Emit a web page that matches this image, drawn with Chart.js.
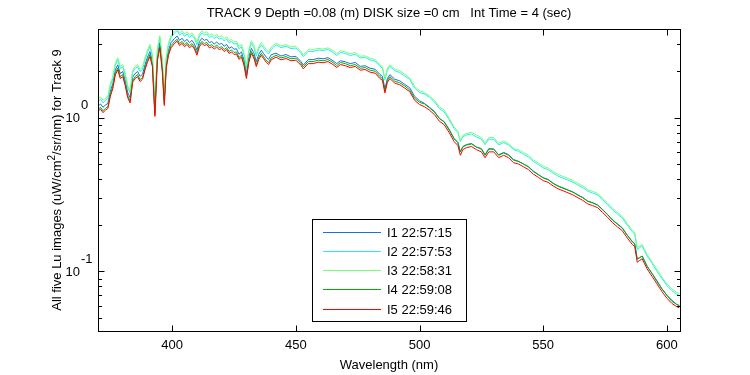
<!DOCTYPE html>
<html>
<head>
<meta charset="utf-8">
<script src="https://cdn.jsdelivr.net/npm/chart.js@4.4.1/dist/chart.umd.min.js"></script>
<style>
  body { margin: 0; background: #fff; }
  canvas { display: block; }
</style>
</head>
<body>
<canvas id="spectra" width="750" height="375"></canvas>
<script>
// golflengte (nm)
const wavelength = [
  370,371,372,373,374,375,376,377,378,379,380,381,382,383,384,385,386,387,388,389,390,391,392,393,394,395,396,396.8,397.6,398.5,399.5,
  401,402,403,404,405,406,407,408,409,410,411,412,413,414,415,416,417,418,419,420,421,422,423,424,425,426,427,428,429,430,431,432,433,434,435,436,437,438,439,440,
  442,444,446,448,450,452,453,455,457,459,461,463,465,466.5,468,470,472,474,476,478,480,482,484,485,486,487,488,490,492,494,496,498,500,
  502,504,506,508,510,512,514,515.5,516.5,517.5,519,521,523,525,526.5,528,530,532,534,536,538,540,542,544,546,548,550,552,554,556,558,560,562,564,566,568,570,572,574,576,578,580,582,584,586,587,588,589,590,591,592,594,596,598,600,602,604,605
];

// I1 22:57:15
const lu1 = [
  1.19,1.23,1.17,1.21,1.24,1.49,1.67,2.05,2.21,1.94,2.00,1.75,1.46,1.35,1.84,1.94,2.00,1.86,1.92,2.21,2.48,2.70,2.32,1.10,2.54,3.08,2.16,1.30,2.27,2.75,3.08,
  3.29,3.40,3.19,3.29,3.13,3.24,3.08,3.19,3.02,2.75,3.13,3.29,3.19,3.24,3.08,3.13,3.02,3.11,3.00,3.05,2.92,3.00,2.83,2.89,2.79,2.81,2.59,2.68,2.38,1.94,2.48,2.83,2.65,2.32,2.59,2.75,2.61,2.48,2.40,2.57,
  2.63,2.52,2.58,2.49,2.51,2.33,2.20,2.39,2.39,2.44,2.42,2.46,2.35,2.25,2.35,2.31,2.25,2.29,2.16,2.18,2.10,2.07,1.91,1.86,1.54,1.80,1.91,1.78,1.74,1.65,1.57,1.38,1.29,
  1.24,1.17,1.10,0.99,0.94,0.84,0.73,0.69,0.60,0.65,0.67,0.68,0.645,0.63,0.575,0.63,0.625,0.575,0.595,0.575,0.535,0.52,0.50,0.48,0.45,0.428,0.407,0.397,0.375,0.36,0.35,0.339,0.329,0.315,0.303,0.287,0.28,0.271,0.253,0.235,0.217,0.204,0.192,0.172,0.157,0.151,0.121,0.123,0.126,0.117,0.108,0.097,0.087,0.077,0.07,0.065,0.061,0.06
];
// I2 22:57:53
const lu2 = [
  1.28,1.32,1.25,1.30,1.33,1.60,1.80,2.20,2.38,2.09,2.15,1.88,1.57,1.45,1.97,2.09,2.15,2.00,2.06,2.38,2.67,2.90,2.49,1.18,2.73,3.31,2.32,1.39,2.44,2.96,3.31,
  3.57,3.69,3.45,3.57,3.39,3.51,3.33,3.45,3.28,2.98,3.39,3.57,3.45,3.51,3.33,3.39,3.28,3.37,3.25,3.30,3.16,3.25,3.07,3.14,3.02,3.04,2.81,2.90,2.57,2.11,2.69,3.07,2.87,2.52,2.81,2.98,2.83,2.69,2.60,2.78,
  2.98,2.86,2.92,2.82,2.84,2.64,2.50,2.70,2.70,2.76,2.74,2.78,2.66,2.54,2.66,2.62,2.54,2.59,2.45,2.47,2.38,2.34,2.16,2.10,1.77,2.04,2.16,2.02,1.97,1.87,1.78,1.56,1.46,
  1.43,1.36,1.27,1.15,1.09,0.97,0.85,0.80,0.70,0.75,0.775,0.785,0.75,0.725,0.67,0.725,0.725,0.665,0.69,0.665,0.62,0.605,0.58,0.555,0.52,0.496,0.472,0.46,0.436,0.417,0.405,0.393,0.381,0.365,0.351,0.333,0.324,0.315,0.293,0.272,0.252,0.236,0.223,0.20,0.182,0.175,0.139,0.143,0.146,0.136,0.126,0.113,0.10,0.09,0.081,0.075,0.071,0.07
];
// I3 22:58:31
const lu3 = [
  1.32,1.37,1.30,1.34,1.38,1.66,1.86,2.28,2.46,2.16,2.22,1.94,1.62,1.50,2.04,2.16,2.22,2.06,2.14,2.46,2.76,3.00,2.58,1.22,2.82,3.42,2.40,1.44,2.52,3.06,3.42,
  3.69,3.81,3.57,3.69,3.51,3.63,3.45,3.57,3.39,3.09,3.51,3.69,3.57,3.63,3.45,3.51,3.39,3.48,3.36,3.41,3.27,3.36,3.17,3.24,3.12,3.15,2.90,3.00,2.66,2.18,2.78,3.17,2.96,2.60,2.90,3.09,2.93,2.78,2.69,2.88,
  3.05,2.93,2.99,2.89,2.92,2.71,2.56,2.77,2.77,2.83,2.80,2.85,2.73,2.61,2.73,2.68,2.61,2.66,2.51,2.53,2.44,2.40,2.21,2.15,1.80,2.09,2.21,2.07,2.02,1.92,1.82,1.60,1.50,
  1.46,1.39,1.30,1.18,1.12,0.99,0.87,0.82,0.71,0.77,0.79,0.805,0.77,0.745,0.68,0.745,0.745,0.68,0.705,0.68,0.63,0.62,0.595,0.57,0.533,0.508,0.484,0.471,0.446,0.428,0.415,0.403,0.391,0.374,0.36,0.341,0.332,0.322,0.30,0.279,0.258,0.242,0.228,0.205,0.186,0.18,0.143,0.146,0.15,0.139,0.129,0.115,0.103,0.092,0.083,0.077,0.073,0.072
];
// I4 22:59:08
const lu4 = [
  1.13,1.17,1.11,1.15,1.18,1.42,1.60,1.96,2.11,1.85,1.91,1.67,1.39,1.29,1.75,1.85,1.91,1.77,1.83,2.11,2.37,2.58,2.21,1.05,2.42,2.94,2.06,1.24,2.16,2.63,2.94,
  3.14,3.24,3.04,3.14,2.99,3.09,2.94,3.04,2.88,2.63,2.99,3.14,3.04,3.09,2.94,2.99,2.88,2.97,2.86,2.90,2.78,2.86,2.70,2.76,2.66,2.68,2.47,2.55,2.27,1.85,2.37,2.70,2.52,2.21,2.47,2.63,2.49,2.37,2.29,2.45,
  2.55,2.45,2.50,2.42,2.44,2.27,2.14,2.32,2.32,2.37,2.35,2.39,2.29,2.18,2.29,2.25,2.18,2.22,2.10,2.12,2.04,2.01,1.85,1.80,1.49,1.75,1.85,1.73,1.69,1.61,1.52,1.34,1.26,
  1.23,1.16,1.09,0.99,0.94,0.83,0.73,0.69,0.60,0.645,0.665,0.675,0.645,0.625,0.57,0.625,0.625,0.57,0.59,0.57,0.53,0.52,0.50,0.48,0.447,0.426,0.406,0.395,0.374,0.359,0.348,0.338,0.328,0.314,0.302,0.286,0.279,0.27,0.252,0.234,0.216,0.203,0.191,0.172,0.156,0.151,0.12,0.123,0.126,0.116,0.108,0.097,0.086,0.077,0.07,0.064,0.061,0.06
];
// I5 22:59:46
const lu5 = [
  1.10,1.14,1.08,1.12,1.15,1.38,1.55,1.90,2.05,1.80,1.85,1.62,1.35,1.25,1.70,1.80,1.85,1.72,1.78,2.05,2.30,2.50,2.15,1.02,2.35,2.85,2.00,1.20,2.10,2.55,2.85,
  3.05,3.15,2.95,3.05,2.90,3.00,2.85,2.95,2.80,2.55,2.90,3.05,2.95,3.00,2.85,2.90,2.80,2.88,2.78,2.82,2.70,2.78,2.62,2.68,2.58,2.60,2.40,2.48,2.20,1.80,2.30,2.62,2.45,2.15,2.40,2.55,2.42,2.30,2.22,2.38,
  2.48,2.38,2.43,2.35,2.37,2.20,2.08,2.25,2.25,2.30,2.28,2.32,2.22,2.12,2.22,2.18,2.12,2.16,2.04,2.06,1.98,1.95,1.80,1.75,1.45,1.70,1.80,1.68,1.64,1.56,1.48,1.30,1.22,
  1.18,1.12,1.05,0.95,0.90,0.80,0.70,0.66,0.57,0.62,0.64,0.65,0.62,0.60,0.55,0.60,0.60,0.55,0.57,0.55,0.51,0.50,0.48,0.46,0.43,0.41,0.39,0.38,0.36,0.345,0.335,0.325,0.315,0.302,0.29,0.275,0.268,0.26,0.242,0.225,0.208,0.195,0.184,0.165,0.150,0.145,0.115,0.118,0.121,0.112,0.104,0.093,0.083,0.074,0.067,0.062,0.059,0.058
];

const seriesNames = ['I1 22:57:15', 'I2 22:57:53', 'I3 22:58:31', 'I4 22:59:08', 'I5 22:59:46'];
const seriesColors = ['#1a6ed8', '#22eef6', '#74ff74', '#00b000', '#ff0000'];
const xTickValues = [400, 450, 500, 550, 600];
const yMinorTicks = [0.05, 0.06, 0.07, 0.08, 0.09, 0.2, 0.3, 0.4, 0.5, 0.6, 0.7, 0.8, 0.9, 2, 3];
const yMajorTicks = [{ value: 0.1, exp: '-1' }, { value: 1, exp: '0' }];

const FONT = '13px "Liberation Sans", Arial, sans-serif';
const SMALL = '10px "Liberation Sans", Arial, sans-serif';

// matlab-achtige assen, teksten en legenda
const matlabLook = {
  id: 'matlabLook',
  afterDraw(chart) {
    const { ctx, chartArea: a, scales: { x, y } } = chart;
    const L = Math.round(a.left) + 0.5, R = Math.round(a.right) + 0.5;
    const T = Math.round(a.top) + 0.5, B = Math.round(a.bottom) + 0.5;
    ctx.save();
    ctx.strokeStyle = '#000';
    ctx.fillStyle = '#000';
    ctx.lineWidth = 1;
    ctx.strokeRect(L, T, R - L, B - T);

    // ticks naar binnen
    ctx.beginPath();
    xTickValues.forEach(v => {
      const px = Math.round(x.getPixelForValue(v)) + 0.5;
      ctx.moveTo(px, B); ctx.lineTo(px, B - 6);
      ctx.moveTo(px, T); ctx.lineTo(px, T + 6);
    });
    yMinorTicks.forEach(v => {
      const py = Math.round(y.getPixelForValue(v)) + 0.5;
      ctx.moveTo(L, py); ctx.lineTo(L + 3.5, py);
      ctx.moveTo(R, py); ctx.lineTo(R - 3.5, py);
    });
    yMajorTicks.forEach(t => {
      const py = Math.round(y.getPixelForValue(t.value)) + 0.5;
      ctx.moveTo(L, py); ctx.lineTo(L + 6, py);
      ctx.moveTo(R, py); ctx.lineTo(R - 6, py);
    });
    ctx.stroke();

    ctx.font = FONT;
    ctx.textBaseline = 'middle';
    ctx.textAlign = 'center';
    xTickValues.forEach(v => ctx.fillText(String(v), x.getPixelForValue(v), 345));
    const midX = (a.left + a.right) / 2;
    ctx.fillText('Wavelength (nm)', midX, 365);
    ctx.fillText('TRACK 9 Depth =0.08 (m) DISK size =0 cm   Int Time = 4 (sec)', midX, 13);

    // y tick labels 10^0, 10^-1
    yMajorTicks.forEach(t => {
      const py = y.getPixelForValue(t.value);
      ctx.textAlign = 'right';
      ctx.fillText('10', 80, py + 1);
      ctx.textAlign = 'left';
      ctx.fillText(t.exp, 81, py - 12);
    });

    // y-as titel met superscript
    ctx.save();
    ctx.translate(57, (a.top + a.bottom) / 2);
    ctx.rotate(-Math.PI / 2);
    const p1 = 'All five Lu images (uW/cm', p2 = '2', p3 = '/sr/nm) for Track 9';
    ctx.font = FONT;
    const w1 = ctx.measureText(p1).width, w3 = ctx.measureText(p3).width;
    ctx.font = SMALL;
    const w2 = ctx.measureText(p2).width;
    let sx = -(w1 + w2 + w3) / 2;
    ctx.textAlign = 'left';
    ctx.font = FONT;
    ctx.fillText(p1, sx, 0); sx += w1;
    ctx.font = SMALL;
    ctx.fillText(p2, sx, -5); sx += w2;
    ctx.font = FONT;
    ctx.fillText(p3, sx, 0);
    ctx.restore();

    // legenda
    const bx = 312.5, by = 219.5, bw = 154, bh = 102;
    ctx.fillStyle = '#fff';
    ctx.fillRect(bx, by, bw, bh);
    ctx.strokeStyle = '#000';
    ctx.strokeRect(bx, by, bw, bh);
    ctx.font = FONT;
    ctx.textAlign = 'left';
    seriesNames.forEach((name, i) => {
      const ry = Math.round(231.5 + i * 19.3) + 0.5;
      ctx.strokeStyle = seriesColors[i];
      ctx.beginPath();
      ctx.moveTo(323, ry); ctx.lineTo(381, ry);
      ctx.stroke();
      ctx.fillStyle = '#000';
      ctx.fillText(name, 387, ry + 0.5);
    });
    ctx.restore();
  }
};

const allSeries = [lu1, lu2, lu3, lu4, lu5];

new Chart(document.getElementById('spectra').getContext('2d'), {
  type: 'line',
  data: {
    datasets: allSeries.map((vals, i) => ({
      label: seriesNames[i],
      data: wavelength.map((w, k) => ({ x: w, y: vals[k] })),
      borderColor: seriesColors[i],
      borderWidth: 1,
      pointRadius: 0,
      tension: 0,
      fill: false,
      order: allSeries.length - 1 - i // rood bovenop
    }))
  },
  options: {
    responsive: false,
    animation: false,
    devicePixelRatio: 1,
    layout: { padding: { left: 98, right: 70, top: 29, bottom: 44 } },
    plugins: {
      legend: { display: false },
      tooltip: { enabled: false },
      title: { display: false }
    },
    scales: {
      x: {
        type: 'linear',
        min: 370,
        max: 605.3,
        grid: { display: false, drawTicks: false, tickLength: 0 },
        border: { display: false },
        ticks: { display: false },
        afterFit: s => { s.height = 0; }
      },
      y: {
        type: 'logarithmic',
        min: 0.041,
        max: 3.78,
        grid: { display: false, drawTicks: false, tickLength: 0 },
        border: { display: false },
        ticks: { display: false },
        afterFit: s => { s.width = 0; }
      }
    }
  },
  plugins: [matlabLook]
});
</script>
</body>
</html>
